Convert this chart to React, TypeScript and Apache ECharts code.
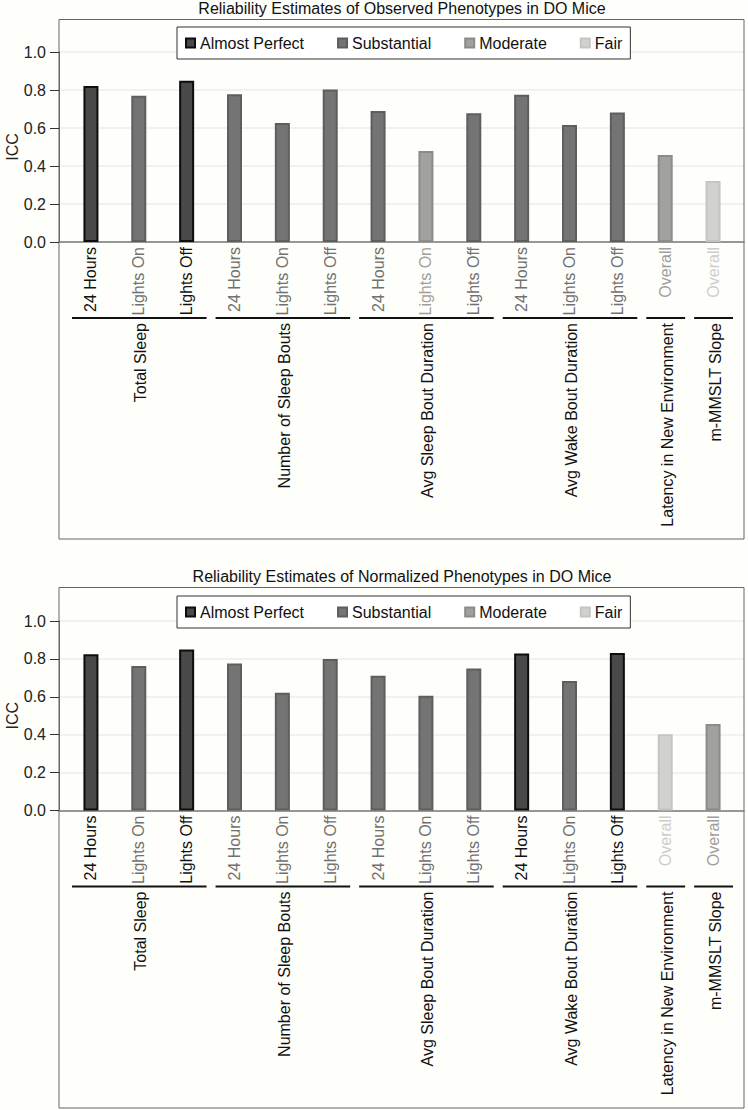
import React, { useEffect, useRef } from 'react';
import * as echarts from 'echarts';

const groupNames = ['Total Sleep', 'Number of Sleep Bouts', 'Avg Sleep Bout Duration', 'Avg Wake Bout Duration', 'Latency in New Environment', 'm-MMSLT Slope'];
const groupSizes = [3, 3, 3, 3, 1, 1];
const subLabels = ['24 Hours', 'Lights On', 'Lights Off', '24 Hours', 'Lights On', 'Lights Off', '24 Hours', 'Lights On', 'Lights Off', '24 Hours', 'Lights On', 'Lights Off', 'Overall', 'Overall'];
const ratingNames = ['Almost Perfect', 'Substantial', 'Moderate', 'Fair'];

const observedValues = [0.821, 0.770, 0.849, 0.777, 0.626, 0.803, 0.689, 0.479, 0.677, 0.775, 0.616, 0.681, 0.458, 0.321];
const observedRatings = [0, 1, 0, 1, 1, 1, 1, 2, 1, 1, 1, 1, 2, 3];
const normalizedValues = [0.825, 0.762, 0.850, 0.776, 0.621, 0.800, 0.711, 0.605, 0.750, 0.829, 0.684, 0.831, 0.402, 0.456];
const normalizedRatings = [0, 1, 0, 1, 1, 1, 1, 1, 1, 0, 1, 0, 3, 2];

const titles = ['Reliability Estimates of Observed Phenotypes in DO Mice', 'Reliability Estimates of Normalized Phenotypes in DO Mice'];

const FILL = ['#494949', '#747474', '#a1a29e', '#d1d2ce'];
const BORDER = ['#0d0d0d', '#5e5e5e', '#8b8c88', '#c4c5c1'];
const TEXTC = ['#111111', '#707070', '#a0a09c', '#cdcecb'];
const FONT = '"Liberation Sans", Arial, Helvetica, sans-serif';

const panels = [
  { values: observedValues, ratings: observedRatings, title: titles[0], titleY: 8, boxTop: 19.5, boxBottom: 539, gridTop: 52, gridHeight: 190, legendTop: 27 },
  { values: normalizedValues, ratings: normalizedRatings, title: titles[1], titleY: 576, boxTop: 587.5, boxBottom: 1108, gridTop: 621, gridHeight: 189.5, legendTop: 596 },
];

const categoryKeys = subLabels.map((s, i) => `${i}|${s}`);

export default function App() {
  const ref = useRef<HTMLDivElement>(null);
  useEffect(() => {
    document.body.style.margin = '0';
    const chart = echarts.init(ref.current!, null, { renderer: 'svg' });
    const grids: any[] = [];
    const xAxes: any[] = [];
    const yAxes: any[] = [];
    const series: any[] = [];
    const legends: any[] = [];
    panels.forEach((p, pi) => {
      const gFrame = grids.length;
      grids.push({ left: 59, width: 685, top: p.gridTop, height: p.gridHeight, containLabel: false, outerBoundsMode: 'none' });
      grids.push({ left: 67, width: 670, top: p.gridTop, height: p.gridHeight, containLabel: false, outerBoundsMode: 'none' });
      xAxes.push({
        type: 'value', gridIndex: gFrame, min: 0, max: 1,
        axisLine: { show: true, onZero: false, lineStyle: { color: '#7a7a7a', width: 1.5 } },
        axisTick: { show: false }, axisLabel: { show: false }, splitLine: { show: false },
      });
      xAxes.push({
        type: 'category', gridIndex: gFrame + 1, data: categoryKeys,
        axisLine: { show: false },
        axisTick: { show: false },
        axisLabel: {
          rotate: 90, margin: 5, fontSize: 16, fontFamily: FONT, interval: 0,
          formatter: (v: string) => v.split('|')[1],
          color: (_v: any, i: number) => TEXTC[p.ratings[i]],
        },
      });
      yAxes.push({
        type: 'value', gridIndex: gFrame, min: 0, max: 1.0, interval: 0.2,
        name: 'ICC', nameLocation: 'middle', nameGap: 39, nameMoveOverlap: false,
        nameTextStyle: { fontSize: 16, fontFamily: FONT, color: '#222' },
        axisLine: { show: true, lineStyle: { color: '#666', width: 1 } },
        axisTick: { show: true, length: 9, lineStyle: { color: '#333', width: 1 } },
        axisLabel: { fontSize: 16, fontFamily: FONT, color: '#222', margin: 13, formatter: (v: number) => v.toFixed(1) },
        splitLine: { show: true, lineStyle: { color: '#ededea', width: 1.5 } },
      });
      yAxes.push({ type: 'value', gridIndex: gFrame + 1, min: 0, max: 1.0, interval: 0.2, show: false });
      ratingNames.forEach((rn, ri) => {
        series.push({
          type: 'bar', name: rn, xAxisIndex: gFrame + 1, yAxisIndex: gFrame + 1, stack: 'p' + pi, barWidth: 15, z: 3,
          itemStyle: { color: FILL[ri], borderColor: BORDER[ri], borderWidth: 2 },
          data: p.values.map((v, i) => (p.ratings[i] === ri ? v : '-')),
        });
      });
      legends.push({
        data: ratingNames, left: 177, top: p.legendTop, padding: [8, 8, 8, 8], itemGap: 33,
        itemWidth: 9, itemHeight: 9, icon: 'rect',
        backgroundColor: '#ffffff', borderColor: '#333', borderWidth: 1,
        textStyle: { fontSize: 16, fontFamily: FONT, color: '#111' },
        selectedMode: false,
      });
    });
    chart.setOption({
      animation: false,
      backgroundColor: '#fefefb',
      textStyle: { fontFamily: FONT },
      grid: grids, xAxis: xAxes, yAxis: yAxes, series, legend: legends,
    });

    const graphics: any[] = [];
    panels.forEach((p, pi) => {
      const barAxis = pi * 2 + 1;
      graphics.push({
        type: 'text', x: 402, y: p.titleY,
        style: { text: p.title, align: 'center', verticalAlign: 'middle', fontSize: 16, fontFamily: FONT, fill: '#111' },
      });
      graphics.push({
        type: 'rect', z: 0, shape: { x: 59, y: p.boxTop, width: 685, height: p.boxBottom - p.boxTop },
        style: { fill: 'none', stroke: '#666', lineWidth: 1 },
      });
      const y0 = chart.convertToPixel({ yAxisIndex: barAxis }, 0) as number;
      const c0 = chart.convertToPixel({ xAxisIndex: barAxis }, 0) as number;
      const c1 = chart.convertToPixel({ xAxisIndex: barAxis }, 1) as number;
      const half = (c1 - c0) / 2;
      let idx = 0;
      groupSizes.forEach((n, gi) => {
        const a = chart.convertToPixel({ xAxisIndex: barAxis }, idx) as number;
        const b = chart.convertToPixel({ xAxisIndex: barAxis }, idx + n - 1) as number;
        graphics.push({
          type: 'line', shape: { x1: a - half + 5, y1: y0 + 76, x2: b + half - 4, y2: y0 + 76 },
          style: { stroke: '#111', lineWidth: 2 },
        });
        graphics.push({
          type: 'text', x: (a + b) / 2 + 2, y: y0 + 81, rotation: Math.PI / 2,
          style: { text: groupNames[gi], align: 'right', verticalAlign: 'middle', fontSize: 16, fontFamily: FONT, fill: '#111' },
        });
        idx += n;
      });
    });
    chart.setOption({ graphic: graphics });
    return () => chart.dispose();
  }, []);
  return <div ref={ref} style={{ width: 748, height: 1110 }} />;
}
